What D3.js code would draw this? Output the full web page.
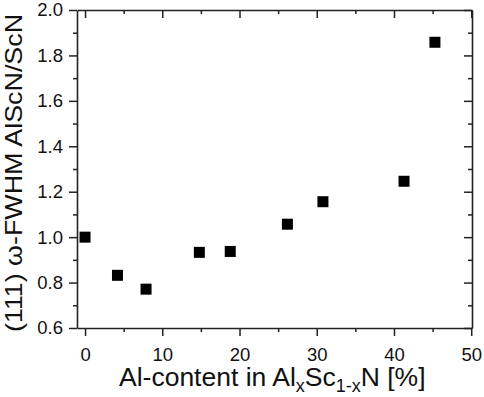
<!DOCTYPE html>
<meta charset="utf-8" />
<html>
<head>
    <script src="https://d3js.org/d3.v7.min.js"></script>
    <style>
      body { margin: 0; background: white; }
      text { font-family: Arial, "Liberation Sans", sans-serif; fill: #111; }
    </style>
</head>
<body>
<script type="text/javascript">
// data
var alContent = [0, 4.2, 7.9, 14.8, 18.8, 26.2, 30.8, 41.3, 45.3];
var fwhmRatio = [1.0, 0.832, 0.771, 0.933, 0.937, 1.057, 1.156, 1.246, 1.858];
var xTicks = [0, 10, 20, 30, 40, 50];
var xMinor = [5, 15, 25, 35, 45];
var yTicks = [0.6, 0.8, 1.0, 1.2, 1.4, 1.6, 1.8, 2.0];
var yMinor = [0.7, 0.9, 1.1, 1.3, 1.5, 1.7, 1.9];

var width = 484, height = 397;
// note: "top" is taken by window.top, so use plot* names
var plotLeft = 77, plotRight = 472, plotTop = 10, plotBottom = 328;

var svg = d3.select('body').append('svg')
    .attr('width', width)
    .attr('height', height);

var x = d3.scaleLinear().domain([-1.04, 50.1]).range([plotLeft, plotRight]);
var y = d3.scaleLinear().domain([0.6, 2.0]).range([plotBottom, plotTop]);

var axisColor = '#222';

function styleAxis(g) {
  g.selectAll('path').attr('stroke', axisColor).attr('stroke-width', 1.6);
  g.selectAll('line').attr('stroke', axisColor).attr('stroke-width', 1.5);
  g.selectAll('text').style('font-size', '18.5px').attr('fill', '#111');
}

// bottom axis, ticks outward
svg.append('g')
    .attr('transform', 'translate(0,' + plotBottom + ')')
    .call(d3.axisBottom(x).tickValues(xTicks).tickSize(8).tickPadding(12).tickFormat(d3.format('d')).tickSizeOuter(0))
    .call(styleAxis);
svg.append('g')
    .attr('transform', 'translate(0,' + plotBottom + ')')
    .call(d3.axisBottom(x).tickValues(xMinor).tickSize(4).tickFormat('').tickSizeOuter(0))
    .call(styleAxis)
    .call(function(g) { g.select('path').remove(); });

// left axis, ticks outward
svg.append('g')
    .attr('transform', 'translate(' + plotLeft + ',0)')
    .call(d3.axisLeft(y).tickValues(yTicks).tickSize(8).tickPadding(6).tickFormat(d3.format('.1f')).tickSizeOuter(0))
    .call(styleAxis);
svg.append('g')
    .attr('transform', 'translate(' + plotLeft + ',0)')
    .call(d3.axisLeft(y).tickValues(yMinor).tickSize(4).tickFormat('').tickSizeOuter(0))
    .call(styleAxis)
    .call(function(g) { g.select('path').remove(); });

// top axis, ticks inward
svg.append('g')
    .attr('transform', 'translate(0,' + plotTop + ')')
    .call(d3.axisTop(x).tickValues(xTicks).tickSize(-8).tickFormat('').tickSizeOuter(0))
    .call(styleAxis);
svg.append('g')
    .attr('transform', 'translate(0,' + plotTop + ')')
    .call(d3.axisTop(x).tickValues(xMinor).tickSize(-4).tickFormat('').tickSizeOuter(0))
    .call(styleAxis)
    .call(function(g) { g.select('path').remove(); });

// right axis, ticks inward
svg.append('g')
    .attr('transform', 'translate(' + plotRight + ',0)')
    .call(d3.axisRight(y).tickValues(yTicks).tickSize(-8).tickFormat('').tickSizeOuter(0))
    .call(styleAxis);
svg.append('g')
    .attr('transform', 'translate(' + plotRight + ',0)')
    .call(d3.axisRight(y).tickValues(yMinor).tickSize(-4).tickFormat('').tickSizeOuter(0))
    .call(styleAxis)
    .call(function(g) { g.select('path').remove(); });

// data squares
var size = 11;
svg.append('g')
  .selectAll('rect')
  .data(alContent)
  .enter()
  .append('rect')
    .attr('x', function(d) { return x(d) - size / 2; })
    .attr('y', function(d, i) { return y(fwhmRatio[i]) - size / 2; })
    .attr('width', size)
    .attr('height', size)
    .attr('fill', 'black');

// x axis title with subscripts
var xt = svg.append('text')
    .attr('x', 119)
    .attr('y', 386)
    .style('font-size', '26.5px');
xt.append('tspan').text('Al-content in Al');
xt.append('tspan').text('x').attr('dy', 6).style('font-size', '18px');
xt.append('tspan').text('Sc').attr('dy', -6);
xt.append('tspan').text('1-x').attr('dy', 6).style('font-size', '18px');
xt.append('tspan').text('N [%]').attr('dy', -6);

// y axis title
svg.append('text')
    .attr('transform', 'translate(22,173) rotate(-90)')
    .attr('text-anchor', 'middle')
    .attr('textLength', 318)
    .attr('lengthAdjust', 'spacingAndGlyphs')
    .style('font-size', '24px')
    .text('(111) \u03c9-FWHM AlScN/ScN');
</script>
</body>
</html>
